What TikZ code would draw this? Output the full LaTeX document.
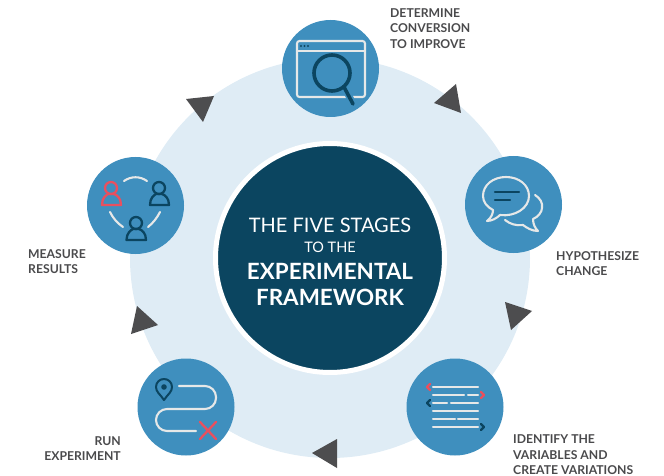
\documentclass[tikz,border=0pt]{standalone}
\usepackage{fontspec}
\setmainfont{Lato}
\usepackage{tikz}
\definecolor{paleblue}{HTML}{DFECF5}
\definecolor{midblue}{HTML}{3F8FBE}
\definecolor{darkblue}{HTML}{0B4560}
\definecolor{markred}{HTML}{E8505F}
\definecolor{markgrey}{HTML}{4D4D4F}
\definecolor{labelgrey}{HTML}{4A4A4C}
\definecolor{iconwhite}{HTML}{E6E8E8}

\begin{document}
\begin{tikzpicture}[x=1pt,y=-1pt]
\tikzset{stage/.style = {shape=circle,fill=midblue,minimum size=97pt,inner sep=0pt}}
\tikzset{caption/.style = {text=labelgrey,inner sep=0pt,font=\fontsize{12.2}{15.6}\selectfont\bfseries}}
\tikzset{hubtext/.style = {text=white,inner sep=0pt}}
\tikzset{turn/.style = {fill=markgrey}}
\tikzset{wline/.style = {draw=iconwhite,line width=2.1pt,line cap=round,line join=round}}
\tikzset{dline/.style = {draw=darkblue,line width=2.3pt,line cap=round,line join=round}}
\tikzset{rline/.style = {draw=markred,line width=2.3pt,line cap=round,line join=round}}
\useasboundingbox (0,0) rectangle (664,476);

% rings
\node[shape=circle,fill=paleblue,minimum size=400pt,inner sep=0pt] (ring) at (330,258) {};
\node[shape=circle,fill=darkblue,draw=white,line width=5pt,minimum size=229pt,inner sep=0pt] (hub) at (330,258) {};
\node[hubtext,font=\fontsize{20}{24}\selectfont] (hubfirst) at (330,225) {THE FIVE STAGES};
\node[hubtext,font=\fontsize{14.5}{18}\selectfont] (hubsecond) at (330,247.5) {TO THE};
\node[hubtext,font=\fontsize{22.4}{26}\selectfont\bfseries] (hubthird) at (330,271) {EXPERIMENTAL};
\node[hubtext,font=\fontsize{22.4}{26}\selectfont\bfseries] (hubfourth) at (330,297) {FRAMEWORK};

% stages
\node[stage] (determine) at (330.5,68.5) {};
\node[stage] (hypothesize) at (513.5,204.5) {};
\node[stage] (identify) at (455,407) {};
\node[stage] (run) at (186,407) {};
\node[stage] (measure) at (135.5,205.5) {};

% turning marks
\fill[turn] (456,84) -- (434,103) -- (461,113) -- cycle;
\fill[turn] (505,302) -- (532,311) -- (511,330) -- cycle;
\fill[turn] (337,439) -- (312,453) -- (337,468) -- cycle;
\fill[turn] (137,306) -- (158,325) -- (131,334) -- cycle;
\fill[turn] (186,99) -- (214,96) -- (203,122) -- cycle;

% captions
\node[caption,anchor=north west,align=left] (determinetext) at (390,8) {DETERMINE\\CONVERSION\\TO IMPROVE};
\node[caption,anchor=north west,align=left] (hypothesizetext) at (556,251) {HYPOTHESIZE\\CHANGE};
\node[caption,anchor=north west,align=left] (identifytext) at (513,434.5) {IDENTIFY THE\\VARIABLES AND\\CREATE VARIATIONS};
\node[caption,anchor=north east,align=right] (runtext) at (121,436) {RUN\\EXPERIMENT};
\node[caption,anchor=north west,align=left] (measuretext) at (28,249) {MEASURE\\RESULTS};

% window and lens
\draw[wline,rounded corners=2.5pt] (297,41) rectangle (365,97);
\draw[wline] (297,51) -- (365,51);
\fill[darkblue] (301,46) circle (1.1) (304.5,46) circle (1.1) (308,46) circle (1.1);
\draw[midblue,line width=7pt] (346,90) -- (351,100);
\draw[dline,line width=3.6pt] (332,73) circle (18);
\draw[dline,line width=3.6pt] (344,87) -- (353,104);

% speech bubbles
\draw[wline] (500,215) .. controls (515,217) and (529,208) .. (529,196)
  .. controls (529,185) and (519,177) .. (506,177)
  .. controls (493,177) and (483,185) .. (483,196)
  .. controls (483,202) and (487,207) .. (493,210)
  .. controls (493,214) and (491,218) .. (487,221)
  .. controls (492,221) and (497,218) .. (500,215);
\draw[wline] (535,195) .. controls (540,198) and (543,203) .. (542,208)
  .. controls (542,212) and (538,217) .. (533,219)
  .. controls (533,224) and (535,228) .. (538,231)
  .. controls (532,231) and (527,228) .. (523,225)
  .. controls (516,226) and (510,224) .. (505,220);
\draw[dline] (495,192) -- (519,192);
\draw[dline] (495,200) -- (510,200);

% text rows
\draw[wline] (433,387) -- (478,387);
\draw[wline] (433,395) -- (464,395) (468,395) -- (478,395);
\draw[wline] (433,403) -- (447,403) (451,403) -- (478,403);
\draw[wline] (433,411) -- (478,411);
\draw[wline] (433,419) -- (455,419) (458,419) -- (478,419);
\draw[wline] (433,427) -- (478,427);
\draw[rline] (430,384) -- (427,387) -- (430,390);
\draw[rline] (481,392) -- (484,395) -- (481,398);
\draw[dline] (430,400) -- (427,403) -- (430,406);
\draw[dline] (481,424) -- (484,427) -- (481,430);

% route
\draw[wline,rounded corners=11pt] (179,386) -- (216,386) -- (216,409) -- (156,409) -- (156,431) -- (196,431);
\draw[dline,line width=2pt] (164,400) .. controls (160,394) and (156,392) .. (156,387)
  .. controls (156,382) and (160,379) .. (164,379)
  .. controls (168,379) and (172,382) .. (172,387)
  .. controls (172,392) and (168,394) .. (164,400);
\fill[darkblue] (164,387) circle (2.8);
\draw[rline] (200,422) -- (216,439) (216,422) -- (200,439);

% people
\draw[rline] (111,188) circle (6);
\draw[rline] (102,205) .. controls (102,198) and (106,195) .. (108,194)
  -- (114,194) .. controls (117,195) and (121,198) .. (121,205) -- cycle;
\draw[dline] (159,188) circle (6);
\draw[dline] (150,205) .. controls (150,198) and (154,195) .. (156,194)
  -- (162,194) .. controls (165,195) and (169,198) .. (169,205) -- cycle;
\draw[dline] (136,223) circle (6);
\draw[dline] (126.5,240) .. controls (126.5,233) and (131,230) .. (133,229)
  -- (139,229) .. controls (142,230) and (146,233) .. (146,240) -- cycle;
\draw[wline] (124,181) .. controls (131,176) and (140,176) .. (147,181);
\draw[wline] (110,212) .. controls (113,218) and (117,223) .. (123,227);
\draw[wline] (160,212) .. controls (157,218) and (153,223) .. (148,227);

\end{tikzpicture}
\end{document}
